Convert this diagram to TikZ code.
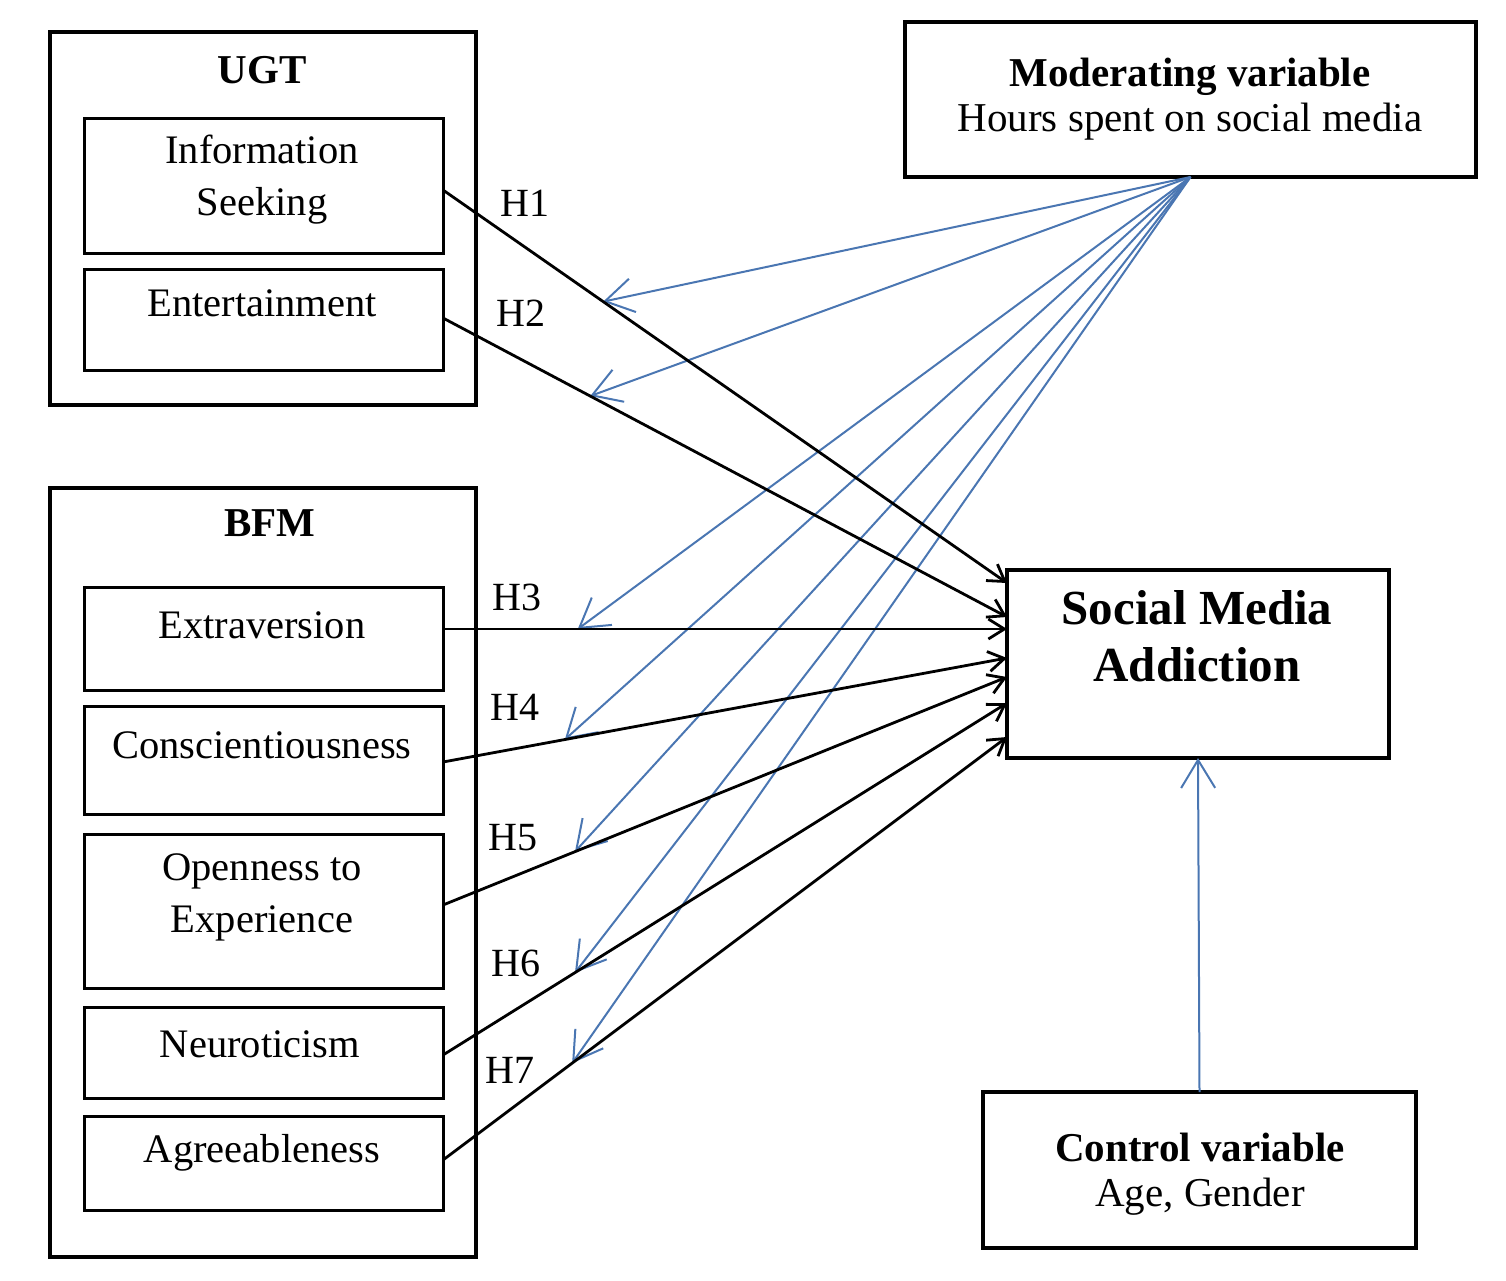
\documentclass[tikz,border=0pt]{standalone}
\usepackage{fontspec}
\setmainfont{Liberation Serif}
\usetikzlibrary{arrows.meta,calc}
\definecolor{modblue}{RGB}{74,118,178}
\begin{document}
\begin{tikzpicture}[x=1pt,y=-1pt,
  frame/.style={draw, line width=3.2pt, inner sep=0pt, outer sep=0pt},
  inbox/.style={draw, line width=3pt, inner sep=0pt, outer sep=0pt, minimum width=359pt},
  txt/.style={font=\fontsize{40.5}{52}\selectfont, align=center, inner sep=0pt},
  ttl/.style={font=\fontsize{41}{45}\selectfont\bfseries, align=center, inner sep=0pt},
  twoline/.style={font=\fontsize{41}{45}\selectfont, align=center, inner sep=0pt},
  hyp/.style={font=\fontsize{40}{44}\selectfont, inner sep=0pt},
  link/.style={draw, line width=2.8pt, -{Straight Barb[length=16pt,width=20pt]}},
  modarrow/.style={draw=modblue, line width=2pt, -{Straight Barb[length=28pt,width=34pt]}}
]
\useasboundingbox (0,0) rectangle (1506,1280);

% ---- UGT group ----
\node[frame, minimum width=426pt, minimum height=373pt] (ugt) at (263,218.5) {};
\node[ttl] (ugtlbl) at (262,70) {UGT};
\node[inbox, minimum height=135pt] (info) at (263.5,185.5) {};
\node[txt] (infot) at (262,180) {Information\\Seeking};
\node[inbox, minimum height=101pt] (ent) at (263.5,319.5) {};
\node[txt] (entt) at (262,303) {Entertainment};

% ---- BFM group ----
\node[frame, minimum width=426pt, minimum height=769pt] (bfm) at (263,872.5) {};
\node[ttl] (bfmlbl) at (270,523) {BFM};
\node[inbox, minimum height=103pt] (ext) at (263.5,638.5) {};
\node[txt] (extt) at (262,625) {Extraversion};
\node[inbox, minimum height=108pt] (con) at (263.5,760) {};
\node[txt] (cont) at (262,745) {Conscientiousness};
\node[inbox, minimum height=154pt] (opn) at (263.5,911) {};
\node[txt] (opnt) at (262,897) {Openness to\\Experience};
\node[inbox, minimum height=91pt] (neu) at (263.5,1052.5) {};
\node[txt] (neut) at (260,1044) {Neuroticism};
\node[inbox, minimum height=94pt] (agr) at (263.5,1163) {};
\node[txt] (agrt) at (262,1153) {Agreeableness};

% ---- right-hand boxes ----
\node[frame, minimum width=571pt, minimum height=155pt] (mod) at (1190.5,99.5) {};
\node[twoline] (modt) at (1190,99)
  {\textbf{Moderating variable}\\Hours spent on social media};
\node[frame, minimum width=382pt, minimum height=188pt] (sma) at (1198,664) {};
\node[align=center, inner sep=0pt, font=\fontsize{49}{57}\selectfont\bfseries] (smat) at (1197,636) {Social Media\\Addiction};
\node[frame, minimum width=433pt, minimum height=156pt] (ctl) at (1199.5,1170) {};
\node[twoline] (ctlt) at (1200,1174)
  {\textbf{Control variable}\\Age, Gender};

% ---- connector end points ----
\coordinate (s1) at ([yshift=-4.5pt]info.east);
\coordinate (s2) at ([yshift=1.5pt]ent.east);
\coordinate (s3) at ([yshift=9.5pt]ext.east);
\coordinate (s4) at ([yshift=-2pt]con.east);
\coordinate (s5) at ([yshift=6pt]opn.east);
\coordinate (s6) at ([yshift=-2.5pt]neu.east);
\coordinate (s7) at ([yshift=3pt]agr.east);
\coordinate (e1) at ([yshift=81pt]sma.west);
\coordinate (e2) at ([yshift=47pt]sma.west);
\coordinate (e3) at ([yshift=35pt]sma.west);
\coordinate (e4) at ([yshift=6pt]sma.west);
\coordinate (e5) at ([yshift=-13pt]sma.west);
\coordinate (e6) at ([yshift=-39pt]sma.west);
\coordinate (e7) at ([yshift=-73pt]sma.west);

% ---- moderating effects ----
\draw[modarrow] (mod.south) -- ($(s1)!0.284!(e1)$);
\draw[modarrow] (mod.south) -- ($(s2)!0.261!(e2)$);
\draw[modarrow] (mod.south) -- ($(s3)!0.239!(e3)$);
\draw[modarrow] (mod.south) -- ($(s4)!0.216!(e4)$);
\draw[modarrow] (mod.south) -- ($(s5)!0.234!(e5)$);
\draw[modarrow] (mod.south) -- ($(s6)!0.234!(e6)$);
\draw[modarrow] (mod.south) -- ($(s7)!0.229!(e7)$);
\draw[modarrow] (ctl.north) -- (sma.south);

% ---- hypothesised paths ----
\draw[link] (s1) -- (e1);
\draw[link] (s2) -- (e2);
\draw[link] (s3) -- (e3);
\draw[link] (s4) -- (e4);
\draw[link] (s5) -- (e5);
\draw[link] (s6) -- (e6);
\draw[link] (s7) -- (e7);

\node[hyp] (h1) at (525,203) {H1};
\node[hyp] (h2) at (521,313) {H2};
\node[hyp] (h3) at (517,597) {H3};
\node[hyp] (h4) at (515,707) {H4};
\node[hyp] (h5) at (513,838) {H5};
\node[hyp] (h6) at (516,963) {H6};
\node[hyp] (h7) at (510,1070) {H7};
\end{tikzpicture}
\end{document}
